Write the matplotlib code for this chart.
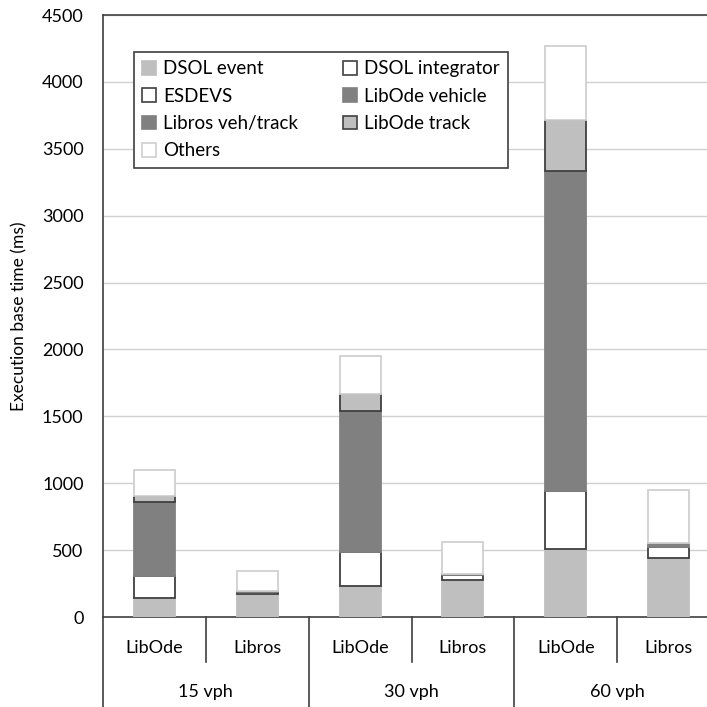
import numpy as np
import matplotlib.pyplot as plt
from matplotlib.patches import Patch

plt.rcParams['font.family'] = ['Lato', 'DejaVu Sans']

# 数据
groups = ['15 vph', '30 vph', '60 vph']
libs = ['LibOde', 'Libros', 'LibOde', 'Libros', 'LibOde', 'Libros']

dsol_event = [140, 172, 235, 275, 505, 440]
dsol_integrator = [170, 0, 250, 0, 435, 0]
esdevs = [0, 12, 0, 38, 0, 85]
libode_vehicle = [550, 0, 1055, 0, 2395, 0]
libros_vehtrack = [0, 8, 0, 10, 0, 25]
libode_track = [45, 0, 125, 0, 380, 0]
others = [195, 153, 285, 237, 550, 400]

series = [
    ('DSOL event', dsol_event, '#bfbfbf', '#bfbfbf'),
    ('DSOL integrator', dsol_integrator, 'white', '#404040'),
    ('ESDEVS', esdevs, 'white', '#404040'),
    ('LibOde vehicle', libode_vehicle, '#808080', '#808080'),
    ('Libros veh/track', libros_vehtrack, '#808080', '#808080'),
    ('LibOde track', libode_track, '#bfbfbf', '#404040'),
    ('Others', others, 'white', '#d0d0d0'),
]

fig = plt.figure(figsize=(7.07, 7.07), dpi=100)
W, H = 707, 707
x0, x1, y0, y1 = 103, 720, 617, 15
ax = fig.add_axes([x0 / W, (H - y0) / H, (x1 - x0) / W, (y0 - y1) / H])

x = np.arange(len(libs))
bottom = np.zeros(len(libs))
for name, vals, fc, ec in series:
    vals = np.array(vals, dtype=float)
    ecs = [ec if v > 0 else 'none' for v in vals]
    ax.bar(x, vals, width=0.4, bottom=bottom, color=fc, edgecolor=ecs,
           linewidth=1.3, zorder=3)
    bottom += vals

ax.set_xlim(-0.5, 5.5)
ax.set_ylim(0, 4500)
ax.set_yticks(np.arange(0, 4501, 500))
ax.tick_params(axis='y', length=0, labelsize=13, pad=14)
ax.tick_params(axis='x', length=0, labelbottom=False)
ax.yaxis.grid(True, color='#d0d0d0', linewidth=1, zorder=0)
ax.set_axisbelow(True)
ax.spines['right'].set_visible(False)
for s in ['left', 'top', 'bottom']:
    ax.spines[s].set_color('#404040')
    ax.spines[s].set_linewidth(1.2)
ax.set_ylabel('Execution base time (ms)', fontsize=12.5, labelpad=10)

# 多级x轴标签
trans = ax.get_xaxis_transform()
ax_h = (y0 - y1)
def yax(py):
    return (y0 - py) / ax_h

for i, lab in enumerate(libs):
    ax.text(i, yax(648), lab, transform=trans, ha='center', va='center',
            fontsize=13, clip_on=False)
for g, lab in enumerate(groups):
    ax.text(2 * g + 0.5, yax(692), lab, transform=trans, ha='center',
            va='center', fontsize=13, clip_on=False)
for i in range(7):
    bot = 707 if i % 2 == 0 else 662
    ax.plot([i - 0.5, i - 0.5], [0, yax(bot)], transform=trans,
            color='#404040', linewidth=1.2, clip_on=False)

handles = {name: Patch(facecolor=fc, edgecolor=ec, linewidth=1.2)
           for name, vals, fc, ec in series}
order = ['DSOL event', 'ESDEVS', 'Libros veh/track', 'Others',
         'DSOL integrator', 'LibOde vehicle', 'LibOde track']
leg = ax.legend([handles[n] for n in order], order, ncol=2, loc='upper left',
                bbox_to_anchor=(0.05, 0.9385), borderaxespad=0,
                fontsize=13.5, fancybox=False, framealpha=1,
                edgecolor='#404040', handlelength=0.75, handleheight=0.75,
                handletextpad=0.35, columnspacing=2.4, labelspacing=0.55,
                borderpad=0.45)
leg.get_frame().set_linewidth(1.2)
leg.set_zorder(5)

fig.savefig('out.png', dpi=100)
